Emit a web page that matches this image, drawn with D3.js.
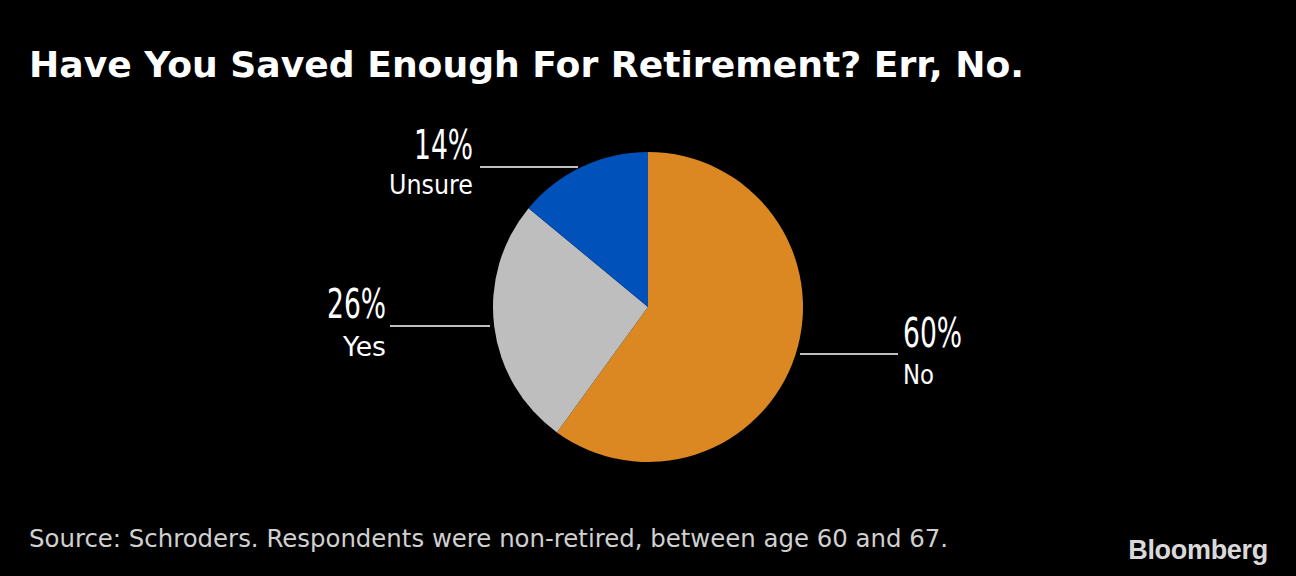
<!DOCTYPE html>
<html><head><meta charset="utf-8">
<script src="https://cdn.jsdelivr.net/npm/d3@7"></script>
<style>body{margin:0;background:#000;}svg{display:block;}</style>
</head><body>
<svg id="c" width="1296" height="576"></svg>
<script>
const categories = ["No", "Yes", "Unsure"];
const values = [60, 26, 14];
const colors = ["#DB8823", "#BEBEBE", "#0051BA"];
const title = "Have You Saved Enough For Retirement? Err, No.";
const source = "Source: Schroders. Respondents were non-retired, between age 60 and 67.";

const svg = d3.select("#c");
svg.append("rect").attr("width",1296).attr("height",576).attr("fill","#000");

svg.append("text").attr("x",29).attr("y",77)
  .attr("font-family","DejaVu Sans").attr("font-weight","bold").attr("font-size",35)
  .attr("fill","#fff").attr("textLength",995).attr("lengthAdjust","spacingAndGlyphs").text(title);

const cx = 648, cy = 307, r = 155;
const pie = d3.pie().sort(null).value(d => d)(values);
const arc = d3.arc().innerRadius(0).outerRadius(r);
const g = svg.append("g").attr("transform",`translate(${cx},${cy})`);
g.selectAll("path").data(pie).join("path").attr("d",arc).attr("fill",(d,i)=>colors[i]);

const labelLayout = {
  "No":     {x1:800, x2:898, y:354, anchor:"start", tx:903, pb:347, cb:384, cw:31},
  "Yes":    {x1:390, x2:490, y:326, anchor:"end",   tx:386, pb:318, cb:356, cw:43},
  "Unsure": {x1:480, x2:578, y:167, anchor:"end",   tx:473, pb:159, cb:194, cw:84}
};
const fam = "Liberation Sans Narrow, DejaVu Sans";
categories.forEach((c,i)=>{
  const L = labelLayout[c];
  svg.append("line").attr("x1",L.x1).attr("x2",L.x2).attr("y1",L.y).attr("y2",L.y)
    .attr("stroke","#fff").attr("stroke-width",1.5);
  svg.append("text").attr("x",L.tx).attr("y",L.pb).attr("text-anchor",L.anchor)
    .attr("font-family",fam).attr("font-size",40).attr("fill","#fff")
    .attr("textLength",59).attr("lengthAdjust","spacingAndGlyphs").text(values[i]+"%");
  svg.append("text").attr("x",L.tx).attr("y",L.cb).attr("text-anchor",L.anchor)
    .attr("font-family",fam).attr("font-size",26).attr("fill","#fff")
    .attr("textLength",L.cw).attr("lengthAdjust","spacingAndGlyphs").text(c);
});

svg.append("text").attr("x",29).attr("y",547)
  .attr("font-family","DejaVu Sans").attr("font-size",25).attr("fill","#d0d0d0")
  .attr("textLength",919).attr("lengthAdjust","spacingAndGlyphs").text(source);

svg.append("text").attr("x",1268).attr("y",559).attr("text-anchor","end")
  .attr("font-family","Liberation Sans, Arial").attr("font-weight","bold").attr("font-size",27)
  .attr("letter-spacing",-0.3).attr("fill","#d9d9d9").text("Bloomberg");
</script>
</body></html>
